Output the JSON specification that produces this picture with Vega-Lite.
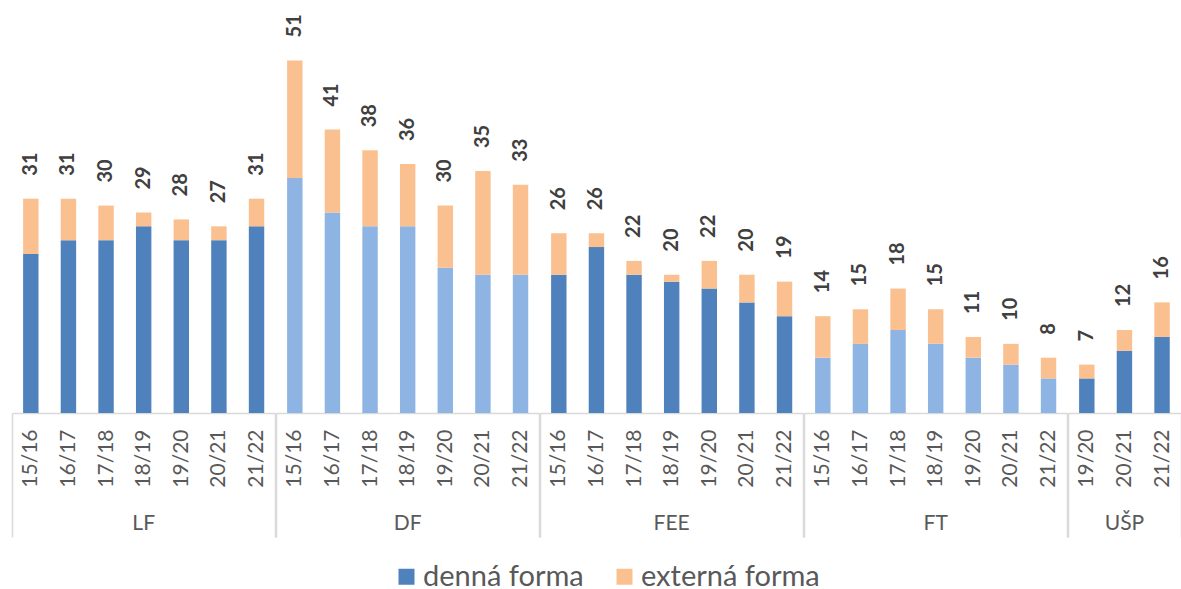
{
  "$schema": "https://vega.github.io/schema/vega-lite/v6.json",
  "padding": {"left": 11, "top": 12, "right": 2, "bottom": 5},
  "background": "white",
  "bounds": "flush",
  "config": {"view": {"stroke": null}, "font": "Lato"},
  "data": {"values": [
    {"fakulta": "LF", "rok": "15/16", "forma": "denná forma", "pocet": 23},
    {"fakulta": "LF", "rok": "15/16", "forma": "externá forma", "pocet": 8},
    {"fakulta": "LF", "rok": "16/17", "forma": "denná forma", "pocet": 25},
    {"fakulta": "LF", "rok": "16/17", "forma": "externá forma", "pocet": 6},
    {"fakulta": "LF", "rok": "17/18", "forma": "denná forma", "pocet": 25},
    {"fakulta": "LF", "rok": "17/18", "forma": "externá forma", "pocet": 5},
    {"fakulta": "LF", "rok": "18/19", "forma": "denná forma", "pocet": 27},
    {"fakulta": "LF", "rok": "18/19", "forma": "externá forma", "pocet": 2},
    {"fakulta": "LF", "rok": "19/20", "forma": "denná forma", "pocet": 25},
    {"fakulta": "LF", "rok": "19/20", "forma": "externá forma", "pocet": 3},
    {"fakulta": "LF", "rok": "20/21", "forma": "denná forma", "pocet": 25},
    {"fakulta": "LF", "rok": "20/21", "forma": "externá forma", "pocet": 2},
    {"fakulta": "LF", "rok": "21/22", "forma": "denná forma", "pocet": 27},
    {"fakulta": "LF", "rok": "21/22", "forma": "externá forma", "pocet": 4},
    {"fakulta": "DF", "rok": "15/16", "forma": "denná forma", "pocet": 34},
    {"fakulta": "DF", "rok": "15/16", "forma": "externá forma", "pocet": 17},
    {"fakulta": "DF", "rok": "16/17", "forma": "denná forma", "pocet": 29},
    {"fakulta": "DF", "rok": "16/17", "forma": "externá forma", "pocet": 12},
    {"fakulta": "DF", "rok": "17/18", "forma": "denná forma", "pocet": 27},
    {"fakulta": "DF", "rok": "17/18", "forma": "externá forma", "pocet": 11},
    {"fakulta": "DF", "rok": "18/19", "forma": "denná forma", "pocet": 27},
    {"fakulta": "DF", "rok": "18/19", "forma": "externá forma", "pocet": 9},
    {"fakulta": "DF", "rok": "19/20", "forma": "denná forma", "pocet": 21},
    {"fakulta": "DF", "rok": "19/20", "forma": "externá forma", "pocet": 9},
    {"fakulta": "DF", "rok": "20/21", "forma": "denná forma", "pocet": 20},
    {"fakulta": "DF", "rok": "20/21", "forma": "externá forma", "pocet": 15},
    {"fakulta": "DF", "rok": "21/22", "forma": "denná forma", "pocet": 20},
    {"fakulta": "DF", "rok": "21/22", "forma": "externá forma", "pocet": 13},
    {"fakulta": "FEE", "rok": "15/16", "forma": "denná forma", "pocet": 20},
    {"fakulta": "FEE", "rok": "15/16", "forma": "externá forma", "pocet": 6},
    {"fakulta": "FEE", "rok": "16/17", "forma": "denná forma", "pocet": 24},
    {"fakulta": "FEE", "rok": "16/17", "forma": "externá forma", "pocet": 2},
    {"fakulta": "FEE", "rok": "17/18", "forma": "denná forma", "pocet": 20},
    {"fakulta": "FEE", "rok": "17/18", "forma": "externá forma", "pocet": 2},
    {"fakulta": "FEE", "rok": "18/19", "forma": "denná forma", "pocet": 19},
    {"fakulta": "FEE", "rok": "18/19", "forma": "externá forma", "pocet": 1},
    {"fakulta": "FEE", "rok": "19/20", "forma": "denná forma", "pocet": 18},
    {"fakulta": "FEE", "rok": "19/20", "forma": "externá forma", "pocet": 4},
    {"fakulta": "FEE", "rok": "20/21", "forma": "denná forma", "pocet": 16},
    {"fakulta": "FEE", "rok": "20/21", "forma": "externá forma", "pocet": 4},
    {"fakulta": "FEE", "rok": "21/22", "forma": "denná forma", "pocet": 14},
    {"fakulta": "FEE", "rok": "21/22", "forma": "externá forma", "pocet": 5},
    {"fakulta": "FT", "rok": "15/16", "forma": "denná forma", "pocet": 8},
    {"fakulta": "FT", "rok": "15/16", "forma": "externá forma", "pocet": 6},
    {"fakulta": "FT", "rok": "16/17", "forma": "denná forma", "pocet": 10},
    {"fakulta": "FT", "rok": "16/17", "forma": "externá forma", "pocet": 5},
    {"fakulta": "FT", "rok": "17/18", "forma": "denná forma", "pocet": 12},
    {"fakulta": "FT", "rok": "17/18", "forma": "externá forma", "pocet": 6},
    {"fakulta": "FT", "rok": "18/19", "forma": "denná forma", "pocet": 10},
    {"fakulta": "FT", "rok": "18/19", "forma": "externá forma", "pocet": 5},
    {"fakulta": "FT", "rok": "19/20", "forma": "denná forma", "pocet": 8},
    {"fakulta": "FT", "rok": "19/20", "forma": "externá forma", "pocet": 3},
    {"fakulta": "FT", "rok": "20/21", "forma": "denná forma", "pocet": 7},
    {"fakulta": "FT", "rok": "20/21", "forma": "externá forma", "pocet": 3},
    {"fakulta": "FT", "rok": "21/22", "forma": "denná forma", "pocet": 5},
    {"fakulta": "FT", "rok": "21/22", "forma": "externá forma", "pocet": 3},
    {"fakulta": "UŠP", "rok": "19/20", "forma": "denná forma", "pocet": 5},
    {"fakulta": "UŠP", "rok": "19/20", "forma": "externá forma", "pocet": 2},
    {"fakulta": "UŠP", "rok": "20/21", "forma": "denná forma", "pocet": 9},
    {"fakulta": "UŠP", "rok": "20/21", "forma": "externá forma", "pocet": 3},
    {"fakulta": "UŠP", "rok": "21/22", "forma": "denná forma", "pocet": 11},
    {"fakulta": "UŠP", "rok": "21/22", "forma": "externá forma", "pocet": 5}
  ]},
  "facet": {
    "column": {
      "field": "fakulta",
      "type": "nominal",
      "sort": ["LF", "DF", "FEE", "FT", "UŠP"],
      "title": null,
      "header": {
        "labelOrient": "bottom",
        "labelFont": "Lato",
        "labelFontSize": 21,
        "labelColor": "#595959",
        "labelPadding": 117,
        "labelBaseline": "alphabetic"
      }
    }
  },
  "spacing": 0,
  "resolve": {"scale": {"x": "independent"}},
  "spec": {
    "width": {"step": 37.62},
    "height": 401,
    "layer": [
      {
        "mark": {"type": "bar", "width": {"band": 0.41}},
        "encoding": {
          "x": {
            "field": "rok",
            "type": "ordinal",
            "scale": {"paddingInner": 0, "paddingOuter": 0},
            "axis": {
              "title": null,
              "labelAngle": 270,
              "labelAlign": "right",
              "labelBaseline": "middle",
              "labelFont": "Lato",
              "labelFontSize": {"condition": {"test": "datum.label === '' || datum.index < 0", "value": 0}, "value": 21},
              "labelColor": "#595959",
              "labelPadding": -108,
              "tickBand": "extent",
              "tickSize": 124,
              "tickColor": "#D9D9D9",
              "tickWidth": 1.5,
              "tickOpacity": {"condition": {"test": "datum.index === -1 || datum.index === 1", "value": 1}, "value": 0},
              "domainColor": "#D9D9D9",
              "domainWidth": 1.5
            }
          },
          "y": {
            "field": "pocet",
            "type": "quantitative",
            "stack": "zero",
            "scale": {"domain": [0, 58], "nice": false},
            "axis": null
          },
          "color": {
            "condition": {"test": "datum.forma === 'denná forma' && indexof(['DF', 'FT'], datum.fakulta) >= 0", "value": "#8EB4E3"},
            "field": "forma",
            "type": "nominal",
            "scale": {"domain": ["denná forma", "externá forma"], "range": ["#4F81BD", "#FAC090"]},
            "legend": {
              "orient": "none",
              "legendX": 380,
              "legendY": 550,
              "padding": 0,
              "title": null,
              "direction": "horizontal",
              "symbolType": "square",
              "symbolSize": 256,
              "symbolStrokeWidth": 0,
              "labelFont": "Lato",
              "labelFontSize": 29,
              "labelColor": "#595959",
              "labelLimit": 400,
              "labelOffset": 2,
              "columnPadding": 26
            }
          },
          "order": {"field": "forma", "sort": "ascending"}
        }
      },
      {
        "mark": {"type": "text", "angle": 270, "align": "left", "baseline": "middle", "dx": 23, "font": "Lato", "fontSize": 20, "fontWeight": "bold", "color": "#404040"},
        "encoding": {
          "x": {"field": "rok", "type": "ordinal"},
          "y": {"aggregate": "sum", "field": "pocet", "type": "quantitative"},
          "text": {"aggregate": "sum", "field": "pocet", "type": "quantitative"}
        }
      }
    ]
  }
}
